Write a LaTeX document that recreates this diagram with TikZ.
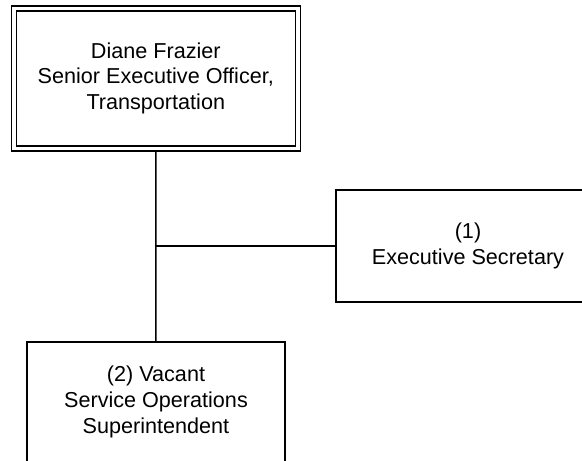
\documentclass[tikz,border=0pt]{standalone}
\usepackage{fontspec}
\setmainfont{Liberation Sans}
\begin{document}
\begin{tikzpicture}[x=1pt,y=-1pt,
  box/.style={draw=black, line width=1.6pt, fill=white, inner sep=0pt, outer sep=0pt,
    align=center, font=\fontsize{21.6}{25.7}\selectfont, text=black},
  topbox/.style={box, double=white, double distance=3.5pt, line width=1.5pt, outer sep=3.25pt},
  link/.style={draw=black, line width=1.5pt}]
\useasboundingbox (0,0) rectangle (582,461);
\node[topbox, minimum width=283.9pt, minimum height=139.8pt] (top) at (155.8,78.4)
  {Diane Frazier\\Senior Executive Officer,\\Transportation};
\node[box, minimum width=264pt, minimum height=112pt] (sec) at (468,246)
  {(1)\\Executive Secretary};
\node[box, minimum width=258pt, minimum height=120pt] (sup) at (156,402)
  {(2) Vacant\\Service Operations\\Superintendent};
\coordinate (j) at (top.south |- sec.west);
\draw[link] (top.south) -- (sup.north);
\draw[link] (j) -- (sec.west);
\end{tikzpicture}
\end{document}
